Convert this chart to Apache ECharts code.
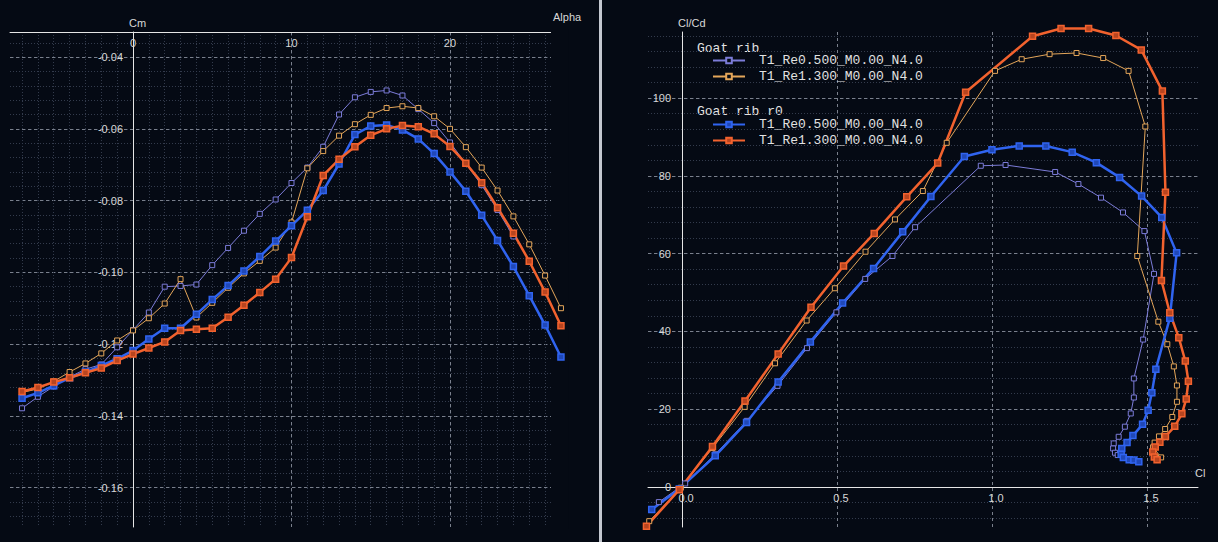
<!DOCTYPE html>
<html>
<head>
<meta charset="utf-8">
<script src="https://cdn.jsdelivr.net/npm/echarts@6/dist/echarts.min.js"></script>
<style>
  html, body { margin: 0; padding: 0; background: #050a14; }
  #chart { width: 1218px; height: 542px; }
</style>
</head>
<body>
<div id="chart"></div>
<script>
// ---- left plot: Cm vs Alpha ----
var ALPHA = [-7, -6, -5, -4, -3, -2, -1, 0, 1, 2, 3, 4, 5, 6, 7, 8, 9, 10, 11, 12, 13, 14, 15, 16, 17, 18, 19, 20, 21, 22, 23, 24, 25, 26, 27];

var CM_RIB_RE05 = [-0.1379, -0.1347, -0.1318, -0.1292, -0.1270, -0.1257, -0.1209, -0.1161, -0.1112, -0.1040, -0.1038, -0.1034, -0.0980, -0.0932,
    -0.0884, -0.0837, -0.0797, -0.0751, -0.0708, -0.0650, -0.0560, -0.0512, -0.0497, -0.0493, -0.0507, -0.0545, -0.0584, -0.0638, -0.0697,
    -0.0757, -0.0826, -0.0900];
var CM_RIB_RE13 = [-0.1335, -0.1325, -0.1304, -0.1278, -0.1254, -0.1226, -0.1190, -0.1162, -0.1128, -0.1087, -0.1019, -0.1126, -0.1085,
    -0.1043, -0.1003, -0.0968, -0.0931, -0.0861, -0.0710, -0.0662, -0.0619, -0.0587, -0.0561, -0.0542, -0.0537, -0.0542, -0.0565, -0.0600,
    -0.0651, -0.0708, -0.0772, -0.0844, -0.0922, -0.1009, -0.1100];
var CM_R0_RE05 = [-0.1351, -0.1336, -0.1316, -0.1294, -0.1278, -0.1260, -0.1241, -0.1218, -0.1186, -0.1156, -0.1156, -0.1117, -0.1076,
    -0.1037, -0.0996, -0.0956, -0.0913, -0.0870, -0.0827, -0.0772, -0.0698, -0.0616, -0.0592, -0.0589, -0.0603, -0.0628, -0.0669, -0.0720,
    -0.0774, -0.0841, -0.0911, -0.0984, -0.1065, -0.1147, -0.1236];
var CM_R0_RE13 = [-0.1332, -0.1321, -0.1306, -0.1294, -0.1280, -0.1267, -0.1246, -0.1228, -0.1211, -0.1194, -0.1162, -0.1159, -0.1156,
    -0.1125, -0.1092, -0.1056, -0.1019, -0.0959, -0.0845, -0.0730, -0.0685, -0.0650, -0.0618, -0.0600, -0.0591, -0.0594, -0.0614, -0.0649,
    -0.0696, -0.0750, -0.0820, -0.0891, -0.0969, -0.1055, -0.1149];

var ALPHA_MINOR = [-7, -6, -5, -4, -3, -2, -1, 0, 1, 2, 3, 4, 5, 6, 7, 8, 9, 10, 11, 12, 13, 14, 15, 16, 17, 18, 19, 20, 21, 22, 23, 24, 25, 26];
var ALPHA_MAJOR = [10, 20];
var ALPHA_LABELS = [0, 10, 20];
var CM_MINOR = [-0.168, -0.164, -0.160, -0.156, -0.152, -0.148, -0.144, -0.140, -0.136, -0.132, -0.128, -0.124, -0.120, -0.116, -0.112,
    -0.108, -0.104, -0.100, -0.096, -0.092, -0.088, -0.084, -0.080, -0.076, -0.072, -0.068, -0.064, -0.060, -0.056, -0.052, -0.048, -0.044,
    -0.040, -0.036];
var CM_LABELS = [-0.16, -0.14, -0.12, -0.10, -0.08, -0.06, -0.04];

// ---- right plot: Cl/Cd vs Cl ----
var CL_RIB_RE05 = [-0.075, 0.010, 0.107, 0.209, 0.308, 0.403, 0.498, 0.591, 0.679, 0.752, 0.964, 1.044, 1.204, 1.279, 1.352, 1.423, 1.492,
    1.523, 1.488, 1.458, 1.458, 1.448, 1.429, 1.409, 1.393, 1.391, 1.397, 1.406];
var CLCD_RIB_RE05 = [-3.9, 0.9, 8.4, 17.0, 26.0, 35.7, 44.9, 53.5, 59.4, 66.8, 82.6, 82.8, 81.0, 77.9, 74.4, 70.6, 65.8, 54.8, 37.9, 27.9,
    23.0, 18.9, 15.5, 12.9, 11.2, 9.9, 8.8, 8.2];
var CL_RIB_RE13 = [-0.106, -0.004, 0.098, 0.202, 0.300, 0.402, 0.493, 0.592, 0.687, 0.777, 0.854, 1.010, 1.096, 1.186, 1.273, 1.359, 1.441,
    1.495, 1.469, 1.537, 1.566, 1.587, 1.597, 1.597, 1.582, 1.559, 1.539, 1.525, 1.520, 1.546];
var CLCD_RIB_RE13 = [-8.8, -0.2, 10.0, 20.6, 31.8, 42.8, 51.1, 60.5, 68.8, 76.1, 88.5, 107.0, 110.0, 111.3, 111.6, 110.3, 107.0, 92.7,
    59.4, 42.5, 36.7, 31.0, 26.1, 21.9, 18.0, 14.9, 13.0, 11.4, 10.2, 7.6];
var CL_R0_RE05 = [-0.098, -0.009, 0.107, 0.208, 0.310, 0.414, 0.518, 0.618, 0.712, 0.803, 0.911, 1.000, 1.088, 1.174, 1.259, 1.337, 1.412,
    1.483, 1.548, 1.596, 1.574, 1.529, 1.516, 1.504, 1.486, 1.455, 1.436, 1.419, 1.417, 1.424, 1.443, 1.458, 1.474];
var CLCD_R0_RE05 = [-5.8, -0.5, 8.0, 16.6, 27.0, 37.3, 47.3, 56.2, 65.6, 74.7, 85.0, 86.7, 87.7, 87.7, 86.1, 83.4, 79.6, 74.8, 69.3, 60.2,
    43.4, 30.3, 24.2, 19.7, 16.1, 13.2, 11.4, 9.9, 8.4, 7.6, 7.0, 6.9, 6.5];
var CL_R0_RE13 = [-0.115, -0.009, 0.098, 0.203, 0.310, 0.416, 0.521, 0.620, 0.725, 0.825, 0.915, 1.131, 1.223, 1.312, 1.400, 1.482, 1.550,
    1.560, 1.547, 1.574, 1.603, 1.624, 1.634, 1.627, 1.613, 1.590, 1.560, 1.542, 1.527, 1.519, 1.524, 1.533];
var CLCD_R0_RE13 = [-10.1, -0.7, 10.4, 22.1, 34.2, 46.2, 56.8, 65.2, 74.6, 83.3, 101.5, 115.9, 117.9, 117.9, 116.1, 112.4, 101.8, 75.8,
    53.1, 44.8, 38.4, 32.4, 27.2, 22.6, 18.8, 15.6, 13.0, 11.5, 10.3, 9.0, 7.7, 7.0];

var CL_MAJOR = [0.5, 1.0, 1.5];
var CL_LABELS = [0.0, 0.5, 1.0, 1.5];
var CLCD_MINOR = [-8, -4, 0, 4, 8, 12, 16, 20, 24, 28, 32, 36, 40, 44, 48, 52, 56, 60, 64, 68, 72, 76, 80, 84, 88, 92, 96, 100, 104, 108, 112, 116];
var CLCD_MAJOR = [20, 40, 60, 80, 100];
var CLCD_LABELS = [0, 20, 40, 60, 80, 100];

// 名称 & 颜色
var NAME_RE05 = "T1_Re0.500_M0.00_N4.0";
var NAME_RE13 = "T1_Re1.300_M0.00_N4.0";
var BG = "#050a14";
var C_LAV = "#7c7cd8";
var C_TAN = "#e4a65a";
var C_BLUE = "#3064f0";
var C_ORANGE = "#f2622e";

// 轴范围 (left grid is wider than its drawn grid so the last alpha points are not clipped)
var L_LEFT = 10, L_TOP = 32, L_H = 495;
var A_MIN = -7.76, A_MAX = 27.4, A_PX = 15.85;
var CM_MIN = -0.171, CM_MAX = -0.033;
var R_LEFT = 648, R_TOP = 32, R_W = 550, R_H = 495;
var CL_MIN = -0.11, CL_MAX = 1.665;
var CLCD_MIN = -10.3, CLCD_MAX = 117;

var L_W = (A_MAX - A_MIN) * A_PX;
var zeroXL = Math.round(L_LEFT + L_W * (0 - A_MIN) / (A_MAX - A_MIN));
var yOffR = -Math.round(R_W * (0 - CL_MIN) / (CL_MAX - CL_MIN));
var xOffR = -Math.round(R_H * (0 - CLCD_MIN) / (CLCD_MAX - CLCD_MIN));

function zip(xs, ys) {
    return ys.map(function (y, i) { return [xs[i], y]; });
}

var minorLine = { show: true, lineStyle: { color: "#333b4c", width: 1, type: [1, 2] } };
var majorLine = { show: true, lineStyle: { color: "#7a808c", width: 1, type: [3, 3] } };
var axisText = { color: "#d8d8d8", fontFamily: "Liberation Sans", fontSize: 11 };
var whiteLine = { color: "#e6e6e6", width: 1 };
var nameText = { color: "#d8d8d8", fontFamily: "Liberation Sans", fontSize: 11 };

function thin(name, color, data, xi, yi) {
    return {
        name: name, type: "line", xAxisIndex: xi, yAxisIndex: yi, data: data,
        clip: false, symbol: "rect", symbolSize: 5,
        lineStyle: { color: color, width: 1 },
        itemStyle: { color: BG, borderColor: color, borderWidth: 1 },
        emphasis: { disabled: true }, z: 3
    };
}
function thick(name, color, fill, data, xi, yi) {
    return {
        name: name, type: "line", xAxisIndex: xi, yAxisIndex: yi, data: data,
        clip: false, symbol: "rect", symbolSize: 6,
        lineStyle: { color: color, width: 2.5 },
        itemStyle: { color: fill, borderColor: color, borderWidth: 1.5 },
        emphasis: { disabled: true }, z: 3
    };
}

var myChart = echarts.init(document.getElementById("chart"), null, { renderer: "svg" });

var option = {
    backgroundColor: BG,
    animation: false,
    grid: [
        { left: L_LEFT, top: L_TOP, width: L_W, height: L_H, outerBoundsMode: "none", containLabel: false },
        { left: R_LEFT, top: R_TOP, width: R_W, height: R_H, outerBoundsMode: "none", containLabel: false },
        // holds only the Cm axis, which sits on alpha = 0
        { left: zeroXL, top: L_TOP, width: 1, height: L_H, outerBoundsMode: "none", containLabel: false }
    ],
    xAxis: [
        {   // alpha, minor grid + labels
            gridIndex: 0, type: "value", position: "top", min: A_MIN, max: A_MAX,
            axisLine: { show: true, onZero: false, lineStyle: whiteLine },
            axisTick: { show: false, customValues: ALPHA_MINOR },
            axisLabel: Object.assign({ customValues: ALPHA_LABELS, inside: true, margin: 5 }, axisText),
            splitLine: minorLine
        },
        {   // alpha, major dashed
            gridIndex: 0, type: "value", position: "top", min: A_MIN, max: A_MAX,
            axisLine: { show: false, onZero: false },
            axisTick: { show: false, customValues: ALPHA_MAJOR },
            axisLabel: { show: false },
            splitLine: majorLine
        },
        {   // Cl
            gridIndex: 1, type: "value", position: "bottom", offset: xOffR, min: CL_MIN, max: CL_MAX,
            name: "Cl", nameLocation: "end", nameGap: -3,
            nameTextStyle: Object.assign({ align: "left", verticalAlign: "bottom", padding: [0, 0, 9, 0] }, nameText),
            axisLine: { show: true, onZero: false, lineStyle: whiteLine },
            axisTick: { show: false, customValues: CL_MAJOR },
            axisLabel: Object.assign({
                customValues: CL_LABELS, margin: 5, padding: [0, 0, 0, 8],
                formatter: function (v) { return v.toFixed(1); }
            }, axisText),
            splitLine: majorLine
        },
        {   // dummy x for the Cm axis grid
            gridIndex: 2, type: "value", min: 0, max: 1, show: false
        }
    ],
    yAxis: [
        {   // Cm, minor grid
            gridIndex: 0, type: "value", position: "left", min: CM_MIN, max: CM_MAX,
            axisLine: { show: false, onZero: false },
            axisTick: { show: false, customValues: CM_MINOR },
            axisLabel: { show: false },
            splitLine: minorLine
        },
        {   // Cm, major dashed
            gridIndex: 0, type: "value", position: "left", min: CM_MIN, max: CM_MAX,
            axisLine: { show: false, onZero: false },
            axisTick: { show: false, customValues: CM_LABELS },
            axisLabel: { show: false },
            splitLine: majorLine
        },
        {   // Cl/Cd, minor grid + labels
            gridIndex: 1, type: "value", position: "left", offset: yOffR, min: CLCD_MIN, max: CLCD_MAX,
            name: "Cl/Cd", nameLocation: "end", nameGap: 4,
            nameTextStyle: Object.assign({ align: "left", padding: [0, 0, 0, -4] }, nameText),
            axisLine: { show: true, onZero: false, lineStyle: whiteLine },
            axisTick: { show: false, customValues: CLCD_MINOR },
            axisLabel: Object.assign({ customValues: CLCD_LABELS, margin: 11 }, axisText),
            splitLine: minorLine
        },
        {   // Cl/Cd, major dashed
            gridIndex: 1, type: "value", position: "left", min: CLCD_MIN, max: CLCD_MAX,
            axisLine: { show: false, onZero: false },
            axisTick: { show: false, customValues: CLCD_MAJOR },
            axisLabel: { show: false },
            splitLine: majorLine
        },
        {   // Cm axis line + labels
            gridIndex: 2, type: "value", position: "left", min: CM_MIN, max: CM_MAX,
            name: "Cm", nameLocation: "end", nameGap: 4,
            nameTextStyle: Object.assign({ align: "left", padding: [0, 0, 0, -4] }, nameText),
            axisLine: { show: true, onZero: false, lineStyle: whiteLine },
            axisTick: { show: false },
            axisLabel: Object.assign({
                customValues: CM_LABELS, margin: 10,
                formatter: function (v) { return v.toFixed(2); }
            }, axisText),
            splitLine: { show: false }
        }
    ],
    legend: [
        {
            orient: "vertical", left: 707, top: 49, itemWidth: 32, itemHeight: 7, itemGap: 3,
            selectedMode: false,
            data: ["Goat rib|" + NAME_RE05, "Goat rib|" + NAME_RE13],
            formatter: function (n) { return n.split("|")[1]; },
            textStyle: { color: "#e2e2e2", fontFamily: "Liberation Mono", fontSize: 13, padding: [0, 0, 0, 9] }
        },
        {
            orient: "vertical", left: 707, top: 113, itemWidth: 32, itemHeight: 7, itemGap: 3,
            selectedMode: false,
            data: ["Goat rib r0|" + NAME_RE05, "Goat rib r0|" + NAME_RE13],
            formatter: function (n) { return n.split("|")[1]; },
            textStyle: { color: "#e2e2e2", fontFamily: "Liberation Mono", fontSize: 13, padding: [0, 0, 0, 9] }
        }
    ],
    graphic: [
        // the drawn grid of the left plot ends at alpha ~26.3
        { type: "rect", z: 1, left: L_LEFT + 540 + 1, top: 29, shape: { width: L_W - 540, height: 500 }, style: { fill: BG }, silent: true },
        { type: "text", z: 2, left: 553, top: 11, style: { text: "Alpha", fill: "#d8d8d8", font: "11px 'Liberation Sans'" }, silent: true },
        { type: "rect", left: 599, top: 0, shape: { width: 3, height: 542 }, style: { fill: "#c4c8d0" }, silent: true },
        { type: "text", left: 697, top: 42, style: { text: "Goat rib", fill: "#e2e2e2", font: "13px 'Liberation Mono'" }, silent: true },
        { type: "text", left: 697, top: 105, style: { text: "Goat rib r0", fill: "#e2e2e2", font: "13px 'Liberation Mono'" }, silent: true }
    ],
    series: [
        thin("Goat rib|" + NAME_RE05, C_LAV, zip(ALPHA, CM_RIB_RE05), 0, 0),
        thin("Goat rib|" + NAME_RE13, C_TAN, zip(ALPHA, CM_RIB_RE13), 0, 0),
        thick("Goat rib r0|" + NAME_RE05, C_BLUE, "#2048b8", zip(ALPHA, CM_R0_RE05), 0, 0),
        thick("Goat rib r0|" + NAME_RE13, C_ORANGE, "#b84520", zip(ALPHA, CM_R0_RE13), 0, 0),

        thin("Goat rib|" + NAME_RE05, C_LAV, zip(CL_RIB_RE05, CLCD_RIB_RE05), 2, 2),
        thin("Goat rib|" + NAME_RE13, C_TAN, zip(CL_RIB_RE13, CLCD_RIB_RE13), 2, 2),
        thick("Goat rib r0|" + NAME_RE05, C_BLUE, "#2048b8", zip(CL_R0_RE05, CLCD_R0_RE05), 2, 2),
        thick("Goat rib r0|" + NAME_RE13, C_ORANGE, "#b84520", zip(CL_R0_RE13, CLCD_R0_RE13), 2, 2)
    ]
};

myChart.setOption(option, true);
</script>
</body>
</html>
